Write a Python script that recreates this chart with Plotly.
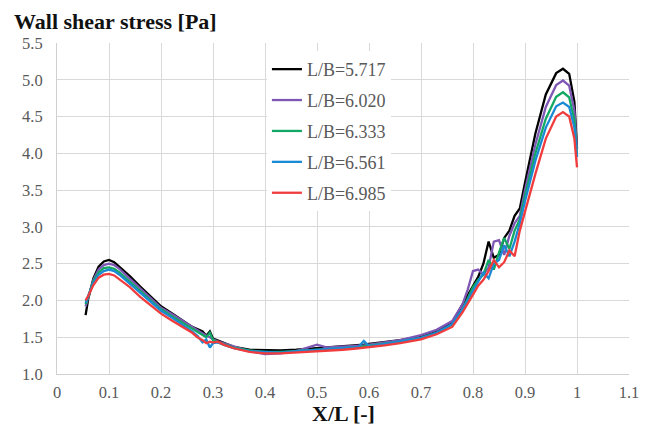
import plotly.graph_objects as go

x_over_l = [0.055, 0.06, 0.07, 0.08, 0.09, 0.10, 0.11, 0.12, 0.14, 0.16, 0.18, 0.20, 0.22, 0.24, 0.26, 0.27,
            0.28, 0.287, 0.294, 0.30, 0.31, 0.32, 0.34, 0.37, 0.40, 0.43, 0.46, 0.48, 0.50, 0.52, 0.55, 0.58,
            0.59, 0.60, 0.63, 0.66, 0.70, 0.73, 0.76, 0.78, 0.79, 0.80, 0.81, 0.82, 0.83, 0.84, 0.85, 0.86,
            0.87, 0.88, 0.89, 0.90, 0.92, 0.94, 0.96, 0.973, 0.985, 0.995, 1.00]

wss_5717 = [1.80, 2.02, 2.30, 2.46, 2.53, 2.55, 2.52, 2.46, 2.33, 2.19, 2.05, 1.92, 1.83, 1.74, 1.64, 1.61,
            1.58, 1.52, 1.58, 1.48, 1.45, 1.43, 1.37, 1.33, 1.32, 1.32, 1.33, 1.34, 1.35, 1.36, 1.37, 1.39,
            1.40, 1.41, 1.43, 1.46, 1.51, 1.58, 1.70, 1.95, 2.07, 2.20, 2.32, 2.50, 2.80, 2.58, 2.62, 2.85,
            2.95, 3.15, 3.25, 3.60, 4.27, 4.80, 5.09, 5.15, 5.08, 4.70, 4.07]

wss_6020 = [1.92, 2.05, 2.28, 2.42, 2.48, 2.50, 2.48, 2.43, 2.30, 2.16, 2.03, 1.90, 1.82, 1.73, 1.64, 1.60,
            1.55, 1.52, 1.50, 1.47, 1.44, 1.42, 1.37, 1.31, 1.27, 1.28, 1.31, 1.36, 1.40, 1.36, 1.37, 1.38,
            1.39, 1.40, 1.43, 1.46, 1.53, 1.60, 1.72, 1.95, 2.15, 2.40, 2.42, 2.35, 2.45, 2.80, 2.82, 2.62,
            2.88, 3.05, 3.15, 3.50, 4.12, 4.63, 4.93, 4.99, 4.92, 4.58, 4.05]

wss_6333 = [1.95, 2.05, 2.26, 2.38, 2.44, 2.45, 2.43, 2.38, 2.26, 2.13, 2.00, 1.88, 1.79, 1.70, 1.62, 1.57,
            1.53, 1.50, 1.56, 1.46, 1.43, 1.41, 1.36, 1.32, 1.30, 1.30, 1.31, 1.32, 1.33, 1.34, 1.35, 1.37,
            1.38, 1.39, 1.41, 1.44, 1.49, 1.56, 1.67, 1.88, 2.03, 2.18, 2.28, 2.35, 2.55, 2.42, 2.65, 2.85,
            2.70, 2.95, 3.10, 3.42, 4.00, 4.47, 4.77, 4.83, 4.76, 4.45, 3.97]

wss_6561 = [1.97, 2.06, 2.24, 2.35, 2.40, 2.42, 2.40, 2.35, 2.23, 2.10, 1.98, 1.86, 1.77, 1.68, 1.58, 1.52,
            1.43, 1.47, 1.36, 1.42, 1.43, 1.40, 1.35, 1.31, 1.30, 1.29, 1.31, 1.32, 1.33, 1.34, 1.35, 1.37,
            1.45, 1.38, 1.41, 1.44, 1.49, 1.56, 1.68, 1.88, 2.00, 2.12, 2.25, 2.38, 2.30, 2.50, 2.55, 2.75,
            2.60, 2.80, 3.05, 3.35, 3.90, 4.35, 4.64, 4.69, 4.63, 4.35, 3.95]

wss_6985 = [2.00, 2.06, 2.21, 2.31, 2.35, 2.36, 2.34, 2.29, 2.18, 2.05, 1.93, 1.82, 1.73, 1.65, 1.56, 1.50,
            1.46, 1.42, 1.44, 1.43, 1.44, 1.40, 1.35, 1.30, 1.28, 1.28, 1.29, 1.30, 1.31, 1.32, 1.33, 1.35,
            1.36, 1.37, 1.39, 1.42, 1.47, 1.54, 1.64, 1.84, 1.97, 2.08, 2.20, 2.28, 2.40, 2.55, 2.45, 2.52,
            2.68, 2.60, 2.95, 3.22, 3.72, 4.20, 4.50, 4.56, 4.50, 4.20, 3.81]

series_names = ["L/B=5.717", "L/B=6.020", "L/B=6.333", "L/B=6.561", "L/B=6.985"]
series_values = [wss_5717, wss_6020, wss_6333, wss_6561, wss_6985]
series_colors = ["#000000", "#7e57b5", "#12a864", "#1a8ad4", "#f03c3c"]

x_ticks = [0, 0.1, 0.2, 0.3, 0.4, 0.5, 0.6, 0.7, 0.8, 0.9, 1, 1.1]
x_tick_labels = ["0", "0.1", "0.2", "0.3", "0.4", "0.5", "0.6", "0.7", "0.8", "0.9", "1", "1.1"]
y_ticks = [1.0, 1.5, 2.0, 2.5, 3.0, 3.5, 4.0, 4.5, 5.0, 5.5]
y_tick_labels = ["1.0", "1.5", "2.0", "2.5", "3.0", "3.5", "4.0", "4.5", "5.0", "5.5"]

SERIF = "Liberation Serif"

fig = go.Figure()
for i, (name, vals, col) in enumerate(zip(series_names, series_values, series_colors)):
    fig.add_trace(go.Scatter(
        x=x_over_l, y=vals, mode="lines", name=name,
        line=dict(color=col, width=2.3), legendgroup=f"g{i}",
    ))

fig.update_layout(
    width=651, height=431,
    margin=dict(l=57, r=16, t=43, b=57),
    paper_bgcolor="white", plot_bgcolor="white",
    font=dict(family=SERIF, size=16.5, color="#595959"),
    showlegend=True,
    legend=dict(
        x=0.367, y=0.976, xanchor="left", yanchor="top",
        bgcolor="white", borderwidth=0,
        font=dict(family=SERIF, size=18, color="#595959"),
        traceorder="grouped", tracegroupgap=4.5,
    ),
    annotations=[
        dict(text="<b>Wall shear stress [Pa]</b>", xref="paper", yref="paper",
             x=-45/578, y=1 + 21/331, xanchor="left", yanchor="middle", showarrow=False,
             font=dict(family=SERIF, size=22, color="#111111")),
        dict(text="<b>X/L [-]</b>", xref="paper", yref="paper",
             x=0.5, y=-39/331, xanchor="center", yanchor="middle", showarrow=False,
             font=dict(family=SERIF, size=22, color="#111111")),
    ],
)

fig.update_xaxes(
    range=[0, 1.1], tickvals=x_ticks, ticktext=x_tick_labels,
    showgrid=True, gridcolor="#d9d9d9", gridwidth=1,
    showline=True, linecolor="#d0d0d0", linewidth=1, mirror=False,
    zeroline=False, ticks="", ticklabelstandoff=3,
)
fig.update_yaxes(
    range=[1.0, 5.5], tickvals=y_ticks, ticktext=y_tick_labels,
    showgrid=True, gridcolor="#d9d9d9", gridwidth=1,
    showline=True, linecolor="#d0d0d0", linewidth=1,
    zeroline=False, ticks="", ticklabelstandoff=10,
)

fig.write_html("out.html")
